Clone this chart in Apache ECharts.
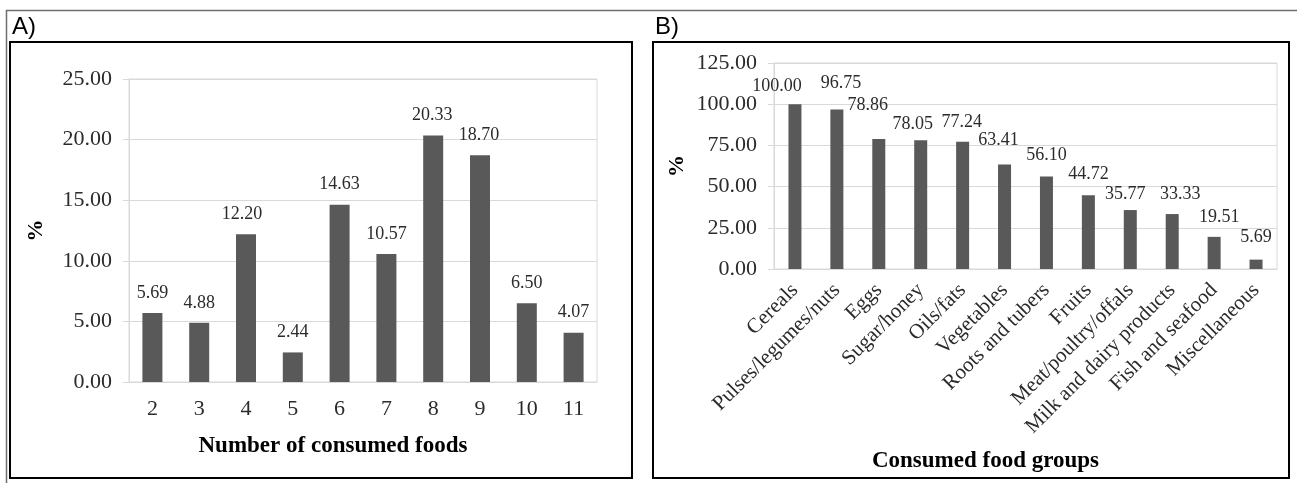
<!DOCTYPE html>
<html>
<head>
<meta charset="utf-8">
<script src="https://cdn.jsdelivr.net/npm/echarts@6/dist/echarts.min.js"></script>
<style>
html,body{margin:0;padding:0;background:#fff;}
#chart{width:1297px;height:483px;}
</style>
</head>
<body>
<div id="chart"></div>
<script>
// ---- Data ----
const categoriesA = ['2','3','4','5','6','7','8','9','10','11'];
const valuesA = [5.69, 4.88, 12.20, 2.44, 14.63, 10.57, 20.33, 18.70, 6.50, 4.07];
const categoriesB = ['Cereals','Pulses/legumes/nuts','Eggs','Sugar/honey','Oils/fats','Vegetables','Roots and tubers','Fruits','Meat/poultry/offals','Milk and dairy products','Fish and seafood','Miscellaneous'];
const valuesB = [100.00, 96.75, 78.86, 78.05, 77.24, 63.41, 56.10, 44.72, 35.77, 33.33, 19.51, 5.69];
const yTicksA = [0, 5, 10, 15, 20, 25];
const yTicksB = [0, 25, 50, 75, 100, 125];
const panelLabels = ['A)', 'B)'];
const xTitleA = 'Number of consumed foods';
const xTitleB = 'Consumed food groups';
const yTitle = '%';

// ---- Styles (label nudges, not data) ----
const labelNudgeA = [[0,0],[0,0],[-4,0],[0,0],[0,0],[0,0],[-1,0],[-1,0],[0,0],[0,0]];
const labelNudgeB = [[-18,2],[4,-6],[-11,-14],[-8,4],[-1,1],[-6,-4],[0,-1],[0,-1],[-5,4],[8,0],[5,0],[0,-2]];

const SERIF = '"Liberation Serif","Times New Roman",serif';
const GRID_LINE = '#d9d9d9';
const BAR = '#595959';
const TXT = '#2b2b2b';

function yAxisCfg(gridIndex, ticks, gap){
  const step = ticks[1] - ticks[0];
  return {
    type: 'value', gridIndex: gridIndex,
    min: ticks[0], max: ticks[ticks.length-1], interval: step,
    name: yTitle, nameLocation: 'middle', nameGap: gap, nameRotate: 90,
    nameTextStyle: {fontFamily: SERIF, fontWeight: 'bold', fontSize: 22, color: '#000'},
    axisLine: {show: true, lineStyle: {color: GRID_LINE, width: 1}},
    axisTick: {show: true, length: 6, lineStyle: {color: GRID_LINE}},
    axisLabel: {fontFamily: SERIF, fontSize: 22, color: TXT, margin: 17,
      formatter: v => v.toFixed(2)},
    splitLine: {show: true, lineStyle: {color: GRID_LINE, width: 1}}
  };
}

function dataWithNudges(vals, nudges){
  return vals.map((v, i) => ({value: v, label: {offset: nudges[i]}}));
}

const option = {
  animation: false,
  backgroundColor: '#fff',
  graphic: [
    {type: 'rect', shape: {x: 6.5, y: 10.5, width: 1300, height: 480}, style: {fill: 'none', stroke: '#6e6e6e', lineWidth: 1.5}, silent: true},
    {type: 'rect', shape: {x: 10, y: 42, width: 622, height: 436}, style: {fill: 'none', stroke: '#000', lineWidth: 2}, silent: true},
    {type: 'rect', shape: {x: 653, y: 42, width: 636, height: 436}, style: {fill: 'none', stroke: '#000', lineWidth: 2}, silent: true},
    {type: 'text', left: 12, top: 15, style: {text: panelLabels[0], fontFamily: '"Liberation Sans",Arial,sans-serif', fontSize: 24, fill: '#000'}},
    {type: 'text', left: 655, top: 15, style: {text: panelLabels[1], fontFamily: '"Liberation Sans",Arial,sans-serif', fontSize: 24, fill: '#000'}}
  ],
  grid: [
    {left: 129, top: 79, width: 468, height: 303, show: true, borderColor: GRID_LINE, borderWidth: 1, backgroundColor: 'transparent'},
    {left: 774, top: 63, width: 503, height: 206, show: true, borderColor: GRID_LINE, borderWidth: 1, backgroundColor: 'transparent'}
  ],
  xAxis: [
    {
      type: 'category', gridIndex: 0, data: categoriesA,
      name: xTitleA, nameLocation: 'middle', nameGap: 53,
      nameTextStyle: {fontFamily: SERIF, fontWeight: 'bold', fontSize: 23, color: '#000', padding: [0, 60, 0, 0]},
      axisLine: {show: true, lineStyle: {color: GRID_LINE}},
      axisTick: {show: false},
      axisLabel: {fontFamily: SERIF, fontSize: 22, color: TXT, margin: 16, interval: 0}
    },
    {
      type: 'category', gridIndex: 1, data: categoriesB,
      name: xTitleB, nameLocation: 'middle', nameGap: 181,
      nameTextStyle: {fontFamily: SERIF, fontWeight: 'bold', fontSize: 23, color: '#000', padding: [0, 80, 0, 0]},
      axisLine: {show: true, lineStyle: {color: GRID_LINE}},
      axisTick: {show: false},
      axisLabel: {fontFamily: SERIF, fontSize: 21, color: TXT, margin: 18, rotate: 45, interval: 0}
    }
  ],
  yAxis: [yAxisCfg(0, yTicksA, 82), yAxisCfg(1, yTicksB, 86)],
  series: [
    {
      type: 'bar', xAxisIndex: 0, yAxisIndex: 0,
      data: dataWithNudges(valuesA, labelNudgeA),
      barWidth: 20, itemStyle: {color: BAR},
      label: {show: true, position: 'top', distance: 11, fontFamily: SERIF, fontSize: 18, color: TXT,
        formatter: p => p.value.toFixed(2)}
    },
    {
      type: 'bar', xAxisIndex: 1, yAxisIndex: 1,
      data: dataWithNudges(valuesB, labelNudgeB),
      barWidth: 13, itemStyle: {color: BAR},
      label: {show: true, position: 'top', distance: 11, fontFamily: SERIF, fontSize: 18, color: TXT,
        formatter: p => p.value.toFixed(2)}
    }
  ]
};

const chart = echarts.init(document.getElementById('chart'), null, {renderer: 'canvas'});
chart.setOption(option);
</script>
</body>
</html>
